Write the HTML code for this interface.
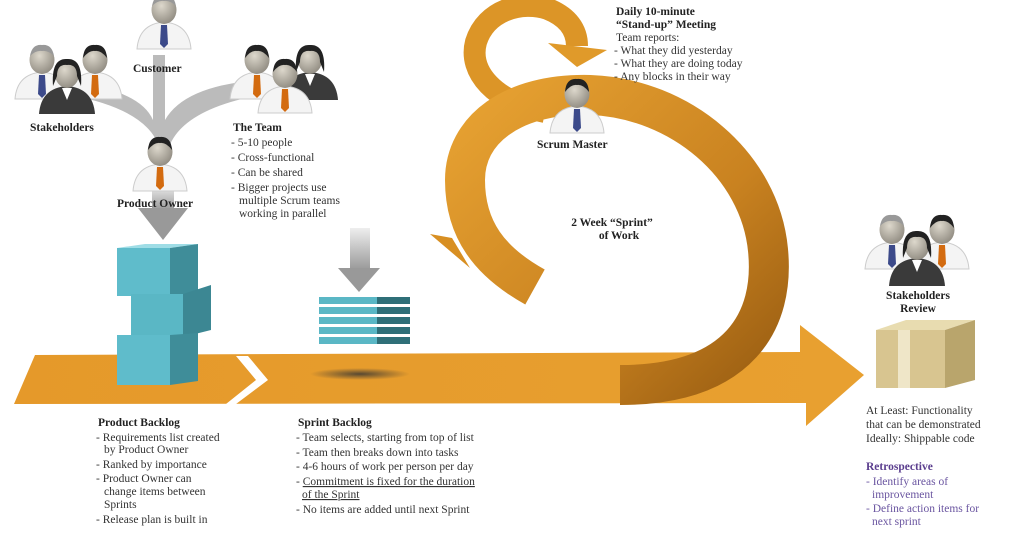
<!DOCTYPE html>
<html><head><meta charset="utf-8"><style>
html,body{margin:0;padding:0;background:#fff;}
svg{display:block;}
text{font-family:"Liberation Serif",serif;fill:#333;font-size:11.5px;}
.b{font-weight:bold;fill:#222;}
</style></head><body>
<svg width="1024" height="536" viewBox="0 0 1024 536" xmlns="http://www.w3.org/2000/svg">
<defs>
<linearGradient id="org" x1="0" y1="0" x2="1" y2="0">
<stop offset="0" stop-color="#e5992a"/><stop offset="1" stop-color="#e8a030"/></linearGradient>
<linearGradient id="loop" x1="0" y1="0" x2="1" y2="1">
<stop offset="0" stop-color="#e7a232"/><stop offset="0.6" stop-color="#c98220"/><stop offset="1" stop-color="#9a5e12"/></linearGradient>
<linearGradient id="gray" x1="0" y1="0" x2="0" y2="1">
<stop offset="0" stop-color="#eee"/><stop offset="1" stop-color="#999"/></linearGradient>
<radialGradient id="head" cx="0.4" cy="0.35" r="0.7"><stop offset="0" stop-color="#ddd8cc"/><stop offset="1" stop-color="#8f8a80"/></radialGradient>
<radialGradient id="shadow" cx="0.5" cy="0.5" r="0.5"><stop offset="0" stop-color="#333" stop-opacity="0.8"/><stop offset="1" stop-color="#333" stop-opacity="0"/></radialGradient>
<g id="man">
<path d="M-27 29 Q-25 4 0 2 Q25 4 27 29 Z" fill="#f4f4f4" stroke="#ccc"/>
<path d="M-3 5 L3 5 L4 24 L0 28 L-4 24 Z" fill="#3c4a8a"/>
<ellipse cx="0" cy="-10" rx="12.5" ry="14" fill="url(#head)"/>
<path d="M-12 -14 Q-10 -26 0 -25 Q10 -26 12 -14 Q6 -20 0 -19 Q-6 -20 -12 -14Z" fill="#999"/>
</g>
<g id="manB">
<path d="M-27 29 Q-25 4 0 2 Q25 4 27 29 Z" fill="#f4f4f4" stroke="#ccc"/>
<path d="M-3 5 L3 5 L4 24 L0 28 L-4 24 Z" fill="#3c4a8a"/>
<ellipse cx="0" cy="-10" rx="12.5" ry="14" fill="url(#head)"/>
<path d="M-12 -12 Q-11 -26 0 -25 Q11 -26 12 -12 Q6 -20 0 -19 Q-6 -20 -12 -12Z" fill="#222"/>
</g>
<g id="manO">
<path d="M-27 29 Q-25 4 0 2 Q25 4 27 29 Z" fill="#f4f4f4" stroke="#ccc"/>
<path d="M-3 5 L3 5 L4 24 L0 28 L-4 24 Z" fill="#d36b10"/>
<ellipse cx="0" cy="-10" rx="12.5" ry="14" fill="url(#head)"/>
<path d="M-12 -12 Q-11 -26 0 -25 Q11 -26 12 -12 Q6 -20 0 -19 Q-6 -20 -12 -12Z" fill="#222"/>
</g>
<g id="woman">
<path d="M-28 30 Q-26 4 0 2 Q26 4 28 30 Z" fill="#3a3a3a"/>
<path d="M-5 4 L0 16 L5 4Z" fill="#fff"/>
<ellipse cx="0" cy="-10" rx="12" ry="14" fill="url(#head)"/>
<path d="M-14 2 Q-16 -26 0 -25 Q16 -26 14 2 L10 -8 Q10 -20 0 -19 Q-10 -20 -10 -8Z" fill="#222"/>
</g>
</defs>

<path d="M70 95 Q150 110 160 150 L168 150 Q180 110 260 95 L262 80 Q185 85 165 120 L165 55 L153 55 L153 120 Q140 90 70 82Z" fill="#bbb"/>
<rect x="152" y="185" width="22" height="25" fill="url(#gray)"/>
<path d="M138 208 L188 208 L163 240Z" fill="#999"/>
<rect x="350" y="228" width="20" height="42" fill="url(#gray)"/>
<path d="M338 268 L380 268 L359 292Z" fill="#999"/>

<path d="M35 355 L800 352 L800 325 L864 375 L806 426 L806 403 L14 404 Z" fill="url(#org)"/>
<path d="M236 356 L256 380 L226 404 L236 404 L268 380 L248 356Z" fill="#fff"/>
<ellipse cx="360" cy="374" rx="50" ry="6" fill="url(#shadow)"/>

<path d="M545 112 C495 102 468 72 476 42 C486 10 522 0 548 9 C568 17 577 30 577 46" fill="none" stroke="#dc9527" stroke-width="22"/>
<path d="M548 43 L607 50 L577 67Z" fill="#e09a2a"/>

<path d="M620 385 C740 385 775 320 768 250 C760 165 680 98 590 95 C512 93 465 130 465 180 C465 230 490 262 535 287" fill="none" stroke="url(#loop)" stroke-width="40"/>
<path d="M430 234 L452 238 L470 268 Z" fill="#d88f22"/>

<use href="#man" x="42" y="70"/>
<use href="#manO" x="95" y="70"/>
<use href="#woman" x="67" y="84"/>
<use href="#man" x="164" y="20"/>
<use href="#manO" x="257" y="70"/>
<use href="#woman" x="310" y="70"/>
<use href="#manO" x="285" y="84"/>
<use href="#manO" x="160" y="162"/>
<use href="#manB" x="577" y="104"/>
<use href="#man" x="892" y="240"/>
<use href="#manO" x="942" y="240"/>
<use href="#woman" x="917" y="256"/>

<polygon points="117,248 170,248 198,244 145,244" fill="#9fdde6"/>
<rect x="117" y="248" width="53" height="48" fill="#5fbccb"/>
<polygon points="170,248 198,244 198,292 170,296" fill="#3f8d99"/>
<rect x="131" y="294" width="52" height="43" fill="#5ab7c5"/>
<polygon points="183,294 211,285 211,330 183,337" fill="#3c8793"/>
<rect x="117" y="335" width="53" height="50" fill="#5fbccb"/>
<polygon points="170,335 198,333 198,381 170,385" fill="#3f8d99"/>
<g>
<rect x="319" y="297" width="58" height="7" fill="#5ab7c5"/><rect x="377" y="297" width="33" height="7" fill="#2f6f78"/>
<rect x="319" y="307" width="58" height="7" fill="#5ab7c5"/><rect x="377" y="307" width="33" height="7" fill="#2f6f78"/>
<rect x="319" y="317" width="58" height="7" fill="#5ab7c5"/><rect x="377" y="317" width="33" height="7" fill="#2f6f78"/>
<rect x="319" y="327" width="58" height="7" fill="#5ab7c5"/><rect x="377" y="327" width="33" height="7" fill="#2f6f78"/>
<rect x="319" y="337" width="58" height="7" fill="#5ab7c5"/><rect x="377" y="337" width="33" height="7" fill="#2f6f78"/>
</g>
<polygon points="876,330 945,330 975,320 906,320" fill="#e8dcb0"/>
<rect x="876" y="330" width="69" height="58" fill="#d8c590"/>
<rect x="898" y="330" width="12" height="58" fill="#efe6c8"/>
<polygon points="945,330 975,320 975,380 945,388" fill="#b9a56c"/>

<text class="b" x="133" y="72">Customer</text>
<text class="b" x="30" y="131">Stakeholders</text>
<text class="b" x="117" y="207">Product Owner</text>
<text class="b" x="233" y="131">The Team</text>
<text x="231" y="146">- 5-10 people</text>
<text x="231" y="161">- Cross-functional</text>
<text x="231" y="176">- Can be shared</text>
<text x="231" y="191">- Bigger projects use</text>
<text x="239" y="204">multiple Scrum teams</text>
<text x="239" y="217">working in parallel</text>

<text class="b" x="616" y="15">Daily 10-minute</text>
<text class="b" x="616" y="28">“Stand-up” Meeting</text>
<text x="616" y="41">Team reports:</text>
<text x="614" y="54">- What they did yesterday</text>
<text x="614" y="67">- What they are doing today</text>
<text x="614" y="80">- Any blocks in their way</text>
<text class="b" x="537" y="148">Scrum Master</text>
<text class="b" x="612" y="226" text-anchor="middle">2 Week “Sprint”</text>
<text class="b" x="619" y="239" text-anchor="middle">of Work</text>
<text class="b" x="918" y="299" text-anchor="middle">Stakeholders</text>
<text class="b" x="918" y="312" text-anchor="middle">Review</text>

<text class="b" x="98" y="426">Product Backlog</text>
<text x="96" y="441">- Requirements list created</text>
<text x="104" y="453">by Product Owner</text>
<text x="96" y="468">- Ranked by importance</text>
<text x="96" y="482">- Product Owner can</text>
<text x="104" y="495">change items between</text>
<text x="104" y="508">Sprints</text>
<text x="96" y="523">- Release plan is built in</text>

<text class="b" x="298" y="426">Sprint Backlog</text>
<text x="296" y="441">- Team selects, starting from top of list</text>
<text x="296" y="456">- Team then breaks down into tasks</text>
<text x="296" y="470">- 4-6 hours of work per person per day</text>
<text x="296" y="485">- <tspan text-decoration="underline">Commitment is fixed for the duration</tspan></text>
<text x="302" y="498" text-decoration="underline">of the Sprint</text>
<text x="296" y="513">- No items are added until next Sprint</text>

<text x="866" y="414">At Least: Functionality</text>
<text x="866" y="428">that can be demonstrated</text>
<text x="866" y="442">Ideally: Shippable code</text>
<text x="866" y="470" style="fill:#5b3e8e;font-weight:bold">Retrospective</text>
<text x="866" y="485" style="fill:#6a55a0">- Identify areas of</text>
<text x="872" y="498" style="fill:#6a55a0">improvement</text>
<text x="866" y="512" style="fill:#6a55a0">- Define action items for</text>
<text x="872" y="525" style="fill:#6a55a0">next sprint</text>
</svg>
</body></html>
